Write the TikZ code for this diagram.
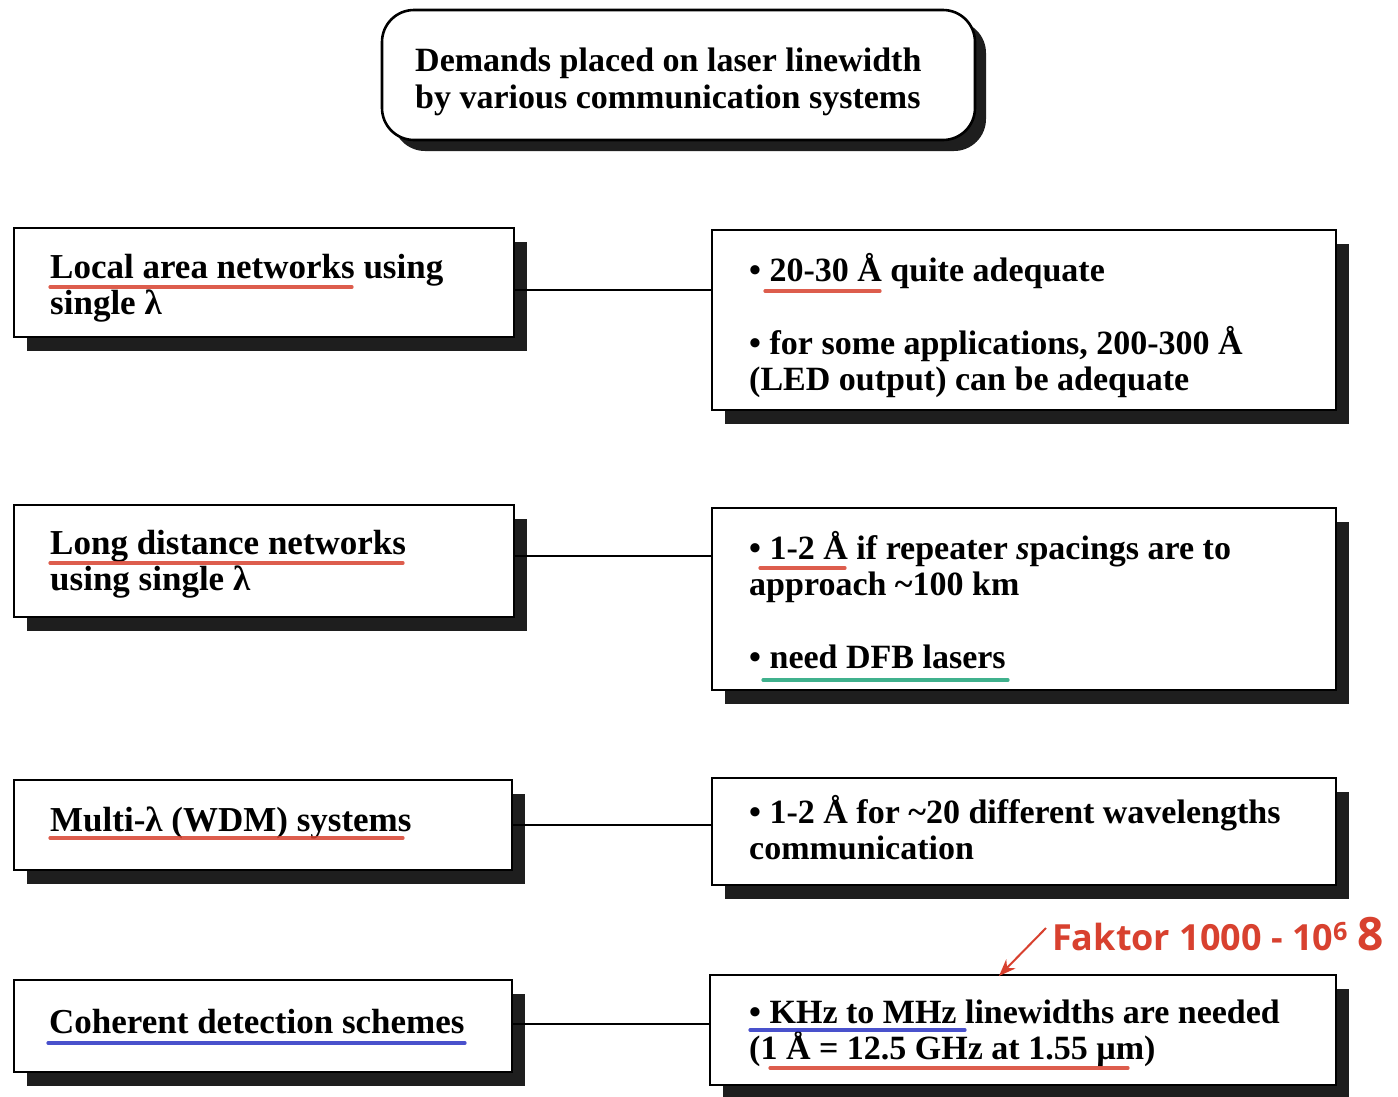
\documentclass[tikz,border=0pt]{standalone}
\usepackage{fontspec}
\setmainfont{Liberation Serif}
\newfontfamily\handfont{Open Sans}
\usetikzlibrary{shadows,arrows.meta}
\definecolor{penred}{HTML}{D8412F}
\definecolor{pengreen}{HTML}{1FA47A}
\definecolor{penblue}{HTML}{2A33C4}
\definecolor{shadowgray}{HTML}{1E1E1E}
\newcommand{\textlines}[1]{\vtop{\halign{##\hfil\cr#1\crcr}}}
\newcommand{\gapline}{\noalign{\vskip36.5pt}}
\tikzset{
  box/.style={draw=black, line width=2.6pt, fill=white, inner sep=0pt,
    drop shadow={shadow xshift=13pt, shadow yshift=-14pt, fill=shadowgray, opacity=1}},
  titlebox/.style={draw=black, line width=2.6pt, fill=white, rounded corners=32pt, inner sep=0pt,
    drop shadow={shadow xshift=11pt, shadow yshift=-11pt, fill=shadowgray, opacity=1}},
  txt/.style={anchor=base west, inner sep=0pt, font=\fontsize{35pt}{36.5pt}\selectfont\bfseries},
  rtxt/.style={txt, font=\fontsize{34pt}{36.5pt}\selectfont\bfseries},
  ttxt/.style={txt, font=\fontsize{34pt}{37pt}\selectfont\bfseries},
  link/.style={draw=black, line width=2.6pt},
  pen/.style={line width=3.2pt, line cap=round, opacity=0.85},
}
\begin{document}
\begin{tikzpicture}[x=1pt,y=-1pt]
\useasboundingbox[fill=white] (0,0) rectangle (1398,1096);

% title
\node[titlebox, minimum width=593pt, minimum height=130pt] (title) at (678.5,75) {};
\node[ttxt] (titlet) at (415,71)
  {\textlines{Demands placed on laser linewidth\cr by various communication systems}};

% left boxes
\node[box, minimum width=500pt, minimum height=109pt] (l1) at (264,282.5) {};
\node[box, minimum width=500pt, minimum height=112pt] (l2) at (264,561) {};
\node[box, minimum width=498pt, minimum height=90pt] (l3) at (263,825) {};
\node[box, minimum width=498pt, minimum height=92pt] (l4) at (263,1026) {};

% right boxes
\node[box, minimum width=624pt, minimum height=180pt] (r1) at (1024,320) {};
\node[box, minimum width=624pt, minimum height=182pt] (r2) at (1024,599) {};
\node[box, minimum width=624pt, minimum height=107pt] (r3) at (1024,831.5) {};
\node[box, minimum width=626pt, minimum height=110pt] (r4) at (1023,1030) {};

% texts
\node[txt] (l1t) at (50,278) {\textlines{Local area networks using\cr single λ}};
\node[txt] (l2t) at (50,554) {\textlines{Long distance networks\cr using single λ}};
\node[txt] (l3t) at (50,831) {Multi-λ (WDM) systems};
\node[txt] (l4t) at (49,1033) {Coherent detection schemes};

\node[rtxt] (r1t) at (749,281)
  {\textlines{\textbullet\ 20-30 Å quite adequate\cr\gapline
   \textbullet\ for some applications, 200-300 Å\cr (LED output) can be adequate}};
\node[rtxt] (r2t) at (749,559)
  {\textlines{\textbullet\ 1-2 Å if repeater \textit{s}pacings are to\cr approach \textasciitilde100 km\cr\gapline
   \textbullet\ need DFB lasers}};
\node[rtxt] (r3t) at (749,823)
  {\textlines{\textbullet\ 1-2 Å for \textasciitilde20 different wavelengths\cr communication}};
\node[rtxt] (r4t) at (749,1023)
  {\textlines{\textbullet\ KHz to MHz linewidths are needed\cr (1 Å = 12.5 GHz at 1.55 µm)}};

% connectors
\draw[link] ([yshift=-7.5pt]l1.east) -- ([yshift=-7.5pt]l1.east -| r1.west);
\draw[link] ([yshift=5pt]l2.east) -- ([yshift=5pt]l2.east -| r2.west);
\draw[link] (l3.east) -- (l3.east -| r3.west);
\draw[link] ([yshift=2pt]l4.east) -- ([yshift=2pt]l4.east -| r4.west);

% pen underlines
\draw[pen, penred] (50,287) -- (352,287);
\draw[pen, penred] (765,291) -- (880,291);
\draw[pen, penred] (50,563) -- (403,563);
\draw[pen, penred] (760,568) -- (845,568);
\draw[pen, pengreen] (763,680) -- (1008,680);
\draw[pen, penred] (50,838) -- (403,838);
\draw[pen, penblue] (48,1043) -- (465,1043);
\draw[pen, penblue] (750,1030) -- (965,1030);
\draw[pen, penred] (770,1068) -- (1128,1068);

% handwritten note
\node[font=\handfont\fontsize{36pt}{38pt}\selectfont\bfseries, text=penred, anchor=base west, inner sep=0pt] (note) at (1052,950)
  {Faktor 1000 - 10\textsuperscript{6} {\fontsize{46pt}{48pt}\selectfont 8}};
\coordinate (start) at (1046,928);
\coordinate (tip) at (999,976);
\draw[penred, line width=2pt, -{Stealth[length=17pt,width=13pt]}] (start) -- (tip);
\end{tikzpicture}
\end{document}
